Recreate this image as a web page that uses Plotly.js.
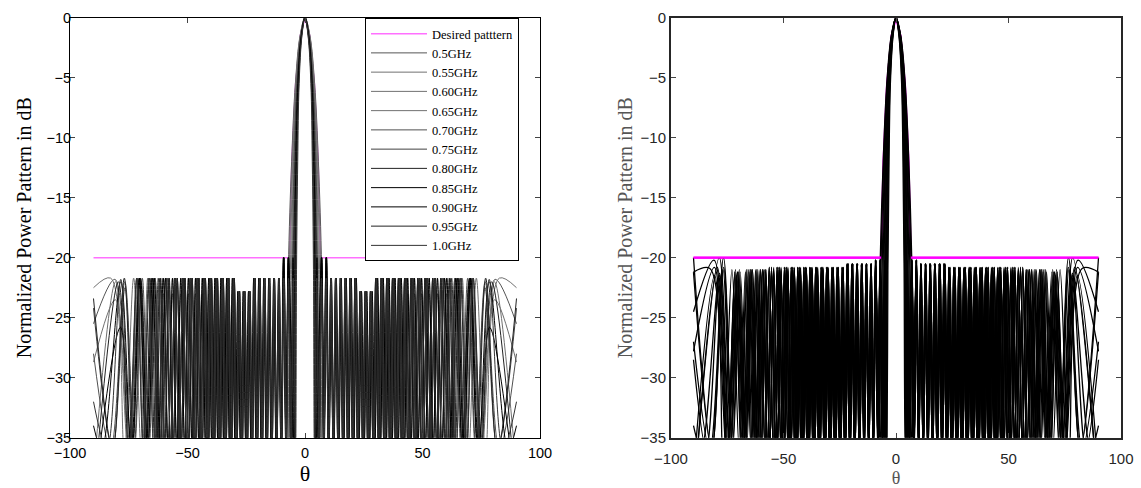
<!DOCTYPE html>
<html><head><meta charset="utf-8">
<script src="https://cdn.plot.ly/plotly-3.0.1.min.js"></script>
<style>html,body{margin:0;padding:0;background:#fff}#chart{width:1141px;height:488px}</style>
</head><body><div id="chart"></div>
<script>
// ---------------- data ----------------
const FREQ_LABELS = ['0.5GHz','0.55GHz','0.60GHz','0.65GHz','0.70GHz','0.75GHz','0.80GHz','0.85GHz','0.90GHz','0.95GHz','1.0GHz'];
const X_TICKS = [-100, -50, 0, 50, 100];
const Y_TICKS = [0, -5, -10, -15, -20, -25, -30, -35];

const DESIRED_TH = [-90, -6.6, -5.6, -4.0, -2.0, 0, 2.0, 4.0, 5.6, 6.6, 90];
const DESIRED_DB = [-20, -20, -12, -5.5, -1.5, 0, -1.5, -5.5, -12, -20, -20];

const NULL_DB = -36;                       // nulls fall below the visible range
const BEAM_DB = [0, -1.5, -5.5, -12, -21]; // main-beam levels

// main beam (theta at BEAM_DB levels) and first null, per frequency
const BEAM_050 = [0, 2.1, 4.1, 5.7, 7.1];
const BEAM_055 = [0, 2.02, 3.94, 5.44, 6.7];
const BEAM_060 = [0, 1.94, 3.78, 5.18, 6.2];
const BEAM_065 = [0, 1.86, 3.62, 4.92, 5.76];
const BEAM_070 = [0, 1.78, 3.46, 4.66, 5.36];
const BEAM_075 = [0, 1.7, 3.3, 4.4, 5.02];
const BEAM_080 = [0, 1.62, 3.14, 4.14, 4.72];
const BEAM_085 = [0, 1.54, 2.98, 3.88, 4.38];
const BEAM_090 = [0, 1.46, 2.82, 3.62, 4.12];
const BEAM_095 = [0, 1.38, 2.66, 3.36, 3.86];
const BEAM_100 = [0, 1.3, 2.5, 3.1, 3.6];
const FIRST_NULL = [8.05, 7.3, 6.72, 6.2, 5.74, 5.34, 5.02, 4.7, 4.47, 4.24, 4.0];

// sidelobe grids (nulls and peaks in degrees) shared by groups of frequencies
const GRID_A_NULLS = [3.97, 5.95, 7.95, 9.96, 11.98, 14.01, 16.06, 18.13, 20.23, 22.36, 24.52, 26.71, 28.96, 31.24, 33.60, 36.01, 38.50, 41.07, 43.76, 46.57, 49.53, 52.69, 56.10];
const GRID_A_PEAKS = [4.96, 6.95, 8.95, 10.97, 12.99, 15.03, 17.09, 19.18, 21.29, 23.44, 25.60, 27.83, 30.09, 32.41, 34.80, 37.25, 39.77, 42.40, 45.15, 48.03, 51.09, 54.36];
const GRID_B_NULLS = [4.01, 6.03, 8.05, 10.08, 12.12, 14.18, 16.26, 18.36, 20.49, 22.64, 24.83, 27.07, 29.34, 31.67, 34.06, 36.51, 39.05, 41.68, 44.43, 47.31, 50.35, 53.61, 57.14];
const GRID_B_PEAKS = [5.02, 7.04, 9.06, 11.10, 13.15, 15.22, 17.31, 19.42, 21.56, 23.73, 25.94, 28.20, 30.50, 32.85, 35.27, 37.77, 40.35, 43.03, 45.85, 48.81, 51.95, 55.33];
const GRID_C_NULLS = [4.06, 6.10, 8.15, 10.20, 12.27, 14.36, 16.46, 18.59, 20.75, 22.93, 25.15, 27.42, 29.73, 32.09, 34.53, 37.02, 39.61, 42.30, 45.11, 48.06, 51.19, 54.56, 58.24];
const GRID_C_PEAKS = [5.08, 7.12, 9.17, 11.24, 13.31, 15.41, 17.53, 19.67, 21.83, 24.04, 26.28, 28.57, 30.90, 33.30, 35.76, 38.31, 40.95, 43.69, 46.57, 49.60, 52.85, 56.36];
const GROUP = ['A','B','C','A','B','C','A','B','C','A','B'];

// sidelobe level of each frequency in each angular zone (left / right chart)
// zones: first lobe (<9.6 deg), inner (<22), dip (<30), middle (up to the tail)
const LEFT_FIRST  = [-21.7, -21.7, -20.0, -20.0, -20.0, -20.0, -20.0, -20.0, -20.0, -21.7, -21.7];
const LEFT_INNER  = [-21.7, -23.0, -21.7, -25.0, -21.7, -26.5, -21.7, -23.0, -21.7, -21.7, -21.7];
const LEFT_DIP    = [-22.8, -24.7, -22.8, -24.7, -23.0, -26.5, -22.8, -23.0, -22.8, -22.8, -22.8];
const LEFT_MID    = [-21.7, -21.7, -21.7, -22.3, -21.7, -23.0, -21.7, -21.7, -21.7, -21.7, -21.7];
const RIGHT_FIRST = [-20.2, -20.2, -20.2, -20.2, -20.2, -20.2, -20.2, -20.2, -20.2, -20.3, -20.3];
const RIGHT_INNER = [-20.5, -23.2, -20.5, -23.2, -20.5, -20.6, -20.5, -20.5, -20.6, -20.5, -20.5];
const RIGHT_DIP   = [-20.8, -23.2, -20.8, -26.3, -20.8, -28.0, -20.8, -26.3, -20.8, -20.8, -20.8];
const RIGHT_MID   = [-20.8, -21.0, -20.8, -20.9, -20.8, -20.8, -21.0, -20.8, -20.8, -21.1, -20.8];

// individual tails towards +/-90 deg (alternating peak / null, last point at 90)
const TAIL_TH_050 = [58.48, 61.05, 63.83, 66.92, 70.47, 74.79, 80.9, 90];
const TAIL_L_050  = [-21.7, -36, -21.7, -36, -21.7, -36, -21.8, -25.5];
const TAIL_R_050  = [-21.0, -36, -21.0, -36, -21.2, -36, -20.2, -24.5];
const TAIL_TH_055 = [59.43, 61.88, 64.56, 67.52, 70.91, 75.03, 80.7, 90];
const TAIL_L_055  = [-21.7, -36, -21.7, -36, -21.7, -36, -23.5, -28.7];
const TAIL_R_055  = [-21.0, -36, -21.0, -36, -21.5, -36, -20.8, -27.8];
const TAIL_TH_060 = [60.41, 62.74, 65.32, 68.16, 71.35, 75.28, 80.6, 90];
const TAIL_L_060  = [-21.7, -36, -21.7, -36, -21.7, -36, -22.0, -38];
const TAIL_R_060  = [-21.0, -36, -21.2, -36, -21.0, -36, -21.5, -38];
const TAIL_TH_065 = [57.99, 59.98, 62.11, 64.41, 66.92, 69.7, 72.92, 76.88, 82.7, 90];
const TAIL_L_065  = [-22.3, -36, -22.3, -36, -21.7, -36, -21.7, -36, -21.7, -22.5];
const TAIL_R_065  = [-21.0, -36, -21.0, -36, -21.2, -36, -21.0, -36, -20.9, -21.2];
const TAIL_TH_070 = [59.21, 61.52, 63.77, 66.38, 69.24, 72.6, 76.66, 82.7, 90];
const TAIL_L_070  = [-21.7, -36, -21.7, -36, -21.7, -36, -22.0, -36, -28.0];
const TAIL_R_070  = [-21.0, -36, -21.0, -36, -21.2, -36, -20.0, -36, -27.0];
const TAIL_TH_075 = [60.18, 62.27, 64.5, 66.96, 69.65, 72.79, 76.59, 81.9, 90];
const TAIL_L_075  = [-23.0, -36, -23.0, -36, -22.0, -36, -22.5, -36, -24.2];
const TAIL_R_075  = [-21.0, -36, -21.0, -36, -21.0, -36, -20.8, -36, -21.2];
const TAIL_TH_080 = [57.77, 59.53, 61.39, 63.38, 65.5, 67.81, 70.38, 73.3, 76.88, 81.86, 90];
const TAIL_L_080  = [-21.7, -36, -21.7, -36, -21.7, -36, -21.7, -36, -21.7, -36, -23.4];
const TAIL_R_080  = [-21.0, -36, -21.0, -36, -21.0, -36, -21.2, -36, -21.0, -36, -20.0];
const TAIL_TH_085 = [59.32, 61.64, 64.16, 66.93, 70.05, 73.74, 78.52, 90];
const TAIL_L_085  = [-21.7, -36, -21.7, -36, -21.7, -36, -25.8, -40];
const TAIL_R_085  = [-21.0, -36, -21.0, -36, -21.2, -36, -20.0, -40];
const TAIL_TH_090 = [60.30, 62.5, 64.9, 67.55, 70.5, 73.96, 78.4, 86.5, 90];
const TAIL_L_090  = [-21.7, -36, -21.7, -36, -21.7, -36, -22.0, -36, -34];
const TAIL_R_090  = [-21.0, -36, -21.0, -36, -21.2, -36, -21.5, -36, -34];
const TAIL_TH_095 = [57.88, 59.76, 61.75, 63.86, 66.2, 68.73, 71.62, 74.98, 79.4, 90];
const TAIL_L_095  = [-21.7, -36, -21.7, -36, -21.7, -36, -21.7, -36, -22.0, -40];
const TAIL_R_095  = [-21.0, -36, -21.0, -36, -21.0, -36, -21.2, -36, -20.8, -40];
const TAIL_TH_100 = [58.83, 60.58, 62.44, 64.42, 66.56, 68.9, 71.55, 74.58, 78.4, 84.27, 90];
const TAIL_L_100  = [-21.7, -36, -21.7, -36, -21.7, -36, -21.7, -36, -21.8, -36, -32];
const TAIL_R_100  = [-21.0, -36, -21.0, -36, -21.0, -36, -21.2, -36, -21.3, -36, -28.5];

// ---------------- build traces ----------------
const BEAMS = [BEAM_050, BEAM_055, BEAM_060, BEAM_065, BEAM_070, BEAM_075, BEAM_080, BEAM_085, BEAM_090, BEAM_095, BEAM_100];
const TAIL_TH = [TAIL_TH_050, TAIL_TH_055, TAIL_TH_060, TAIL_TH_065, TAIL_TH_070, TAIL_TH_075, TAIL_TH_080, TAIL_TH_085, TAIL_TH_090, TAIL_TH_095, TAIL_TH_100];
const TAIL_L = [TAIL_L_050, TAIL_L_055, TAIL_L_060, TAIL_L_065, TAIL_L_070, TAIL_L_075, TAIL_L_080, TAIL_L_085, TAIL_L_090, TAIL_L_095, TAIL_L_100];
const TAIL_R = [TAIL_R_050, TAIL_R_055, TAIL_R_060, TAIL_R_065, TAIL_R_070, TAIL_R_075, TAIL_R_080, TAIL_R_085, TAIL_R_090, TAIL_R_095, TAIL_R_100];
const GRIDS = {A:[GRID_A_NULLS, GRID_A_PEAKS], B:[GRID_B_NULLS, GRID_B_PEAKS], C:[GRID_C_NULLS, GRID_C_PEAKS]};

function half(k, side) {
  const th = BEAMS[k].slice(), db = BEAM_DB.slice();
  th.push(FIRST_NULL[k]); db.push(NULL_DB);
  const [nulls, peaks] = GRIDS[GROUP[k]];
  const lv = side === 'L' ? [LEFT_FIRST, LEFT_INNER, LEFT_DIP, LEFT_MID] : [RIGHT_FIRST, RIGHT_INNER, RIGHT_DIP, RIGHT_MID];
  let i = 0;
  while (i < peaks.length && peaks[i] <= FIRST_NULL[k] + 0.5) i++;
  for (; i < peaks.length; i++) {
    const p = peaks[i];
    const zone = p < 9.6 ? 0 : p < 22 ? 1 : p < 30 ? 2 : 3;
    th.push(p); db.push(lv[zone][k]);
    th.push(nulls[i + 1]); db.push(NULL_DB);
  }
  const tt = TAIL_TH[k], td = side === 'L' ? TAIL_L[k] : TAIL_R[k];
  for (let j = 0; j < tt.length; j++) { th.push(tt[j]); db.push(td[j]); }
  return {th, db};
}
function full(h) {
  const x = [], y = [];
  for (let i = h.th.length - 1; i >= 1; i--) { x.push(-h.th[i]); y.push(h.db[i]); }
  for (let i = 0; i < h.th.length; i++) { x.push(h.th[i]); y.push(h.db[i]); }
  return {x, y};
}
// flat (sidelobe) part of the desired pattern, with a gap over the main beam
const flatX = [], flatY = [];
DESIRED_TH.forEach((t, i) => {
  if (DESIRED_DB[i] === -20) { flatX.push(t); flatY.push(DESIRED_DB[i]); }
  if (i < DESIRED_TH.length - 1 && DESIRED_DB[i] === -20 && DESIRED_DB[i + 1] !== -20) { flatX.push(null); flatY.push(null); }
});
const LINE_COLORS = ['#555','#707070','#707070','#707070','#505050','#404040','#222','#000','#000','#222','#333'];

const traces = [];
traces.push({x: DESIRED_TH, y: DESIRED_DB, xaxis:'x', yaxis:'y', mode:'lines', name:'Desired patttern',
  line:{color:'#ff70ff', width:1.5}, showlegend:true});
for (let k = 0; k < FREQ_LABELS.length; k++) {
  const p = full(half(k, 'L'));
  traces.push({x:p.x, y:p.y, xaxis:'x', yaxis:'y', mode:'lines', name:FREQ_LABELS[k],
    line:{color:LINE_COLORS[k], width:1, shape:'spline', smoothing:1}});
}
traces.push({x: DESIRED_TH, y: DESIRED_DB, xaxis:'x2', yaxis:'y2', mode:'lines', showlegend:false,
  line:{color:'#ff00ff', width:2}});
for (let k = 0; k < FREQ_LABELS.length; k++) {
  const p = full(half(k, 'R'));
  traces.push({x:p.x, y:p.y, xaxis:'x2', yaxis:'y2', mode:'lines', showlegend:false,
    line:{color:'#000', width:1.3, shape:'spline', smoothing:1}});
}
traces.push({x: flatX, y: flatY, xaxis:'x2', yaxis:'y2', mode:'lines', showlegend:false,
  line:{color:'#ff00ff', width:2.2}, connectgaps:false});

const W = 1141, H = 488;
const tickFont = {family:'Liberation Sans, Arial, sans-serif', size:14.5, color:'#000'};
const serif = 'Liberation Serif, Times New Roman, serif';
const yDom = [1 - 437.7/H, 1 - 17.7/H];

const layout = {
  width:W, height:H, margin:{l:0, r:0, t:0, b:0},
  paper_bgcolor:'#fff', plot_bgcolor:'#fff', showlegend:true,
  xaxis:{domain:[70/W, 540/W], range:[-100,100], tickvals:X_TICKS, ticks:'inside', ticklen:5,
    showline:true, mirror:'ticks', linecolor:'#000', linewidth:1, showgrid:false, zeroline:false,
    tickfont:tickFont, automargin:false, ticklabelstandoff:2,
    title:{text:'θ', font:{family:serif, size:22, color:'#000'}, standoff:2}},
  yaxis:{domain:yDom, range:[-35,0], tickvals:Y_TICKS, ticks:'inside', ticklen:5,
    showline:true, mirror:'ticks', linecolor:'#000', linewidth:1, showgrid:false, zeroline:false,
    tickfont:tickFont, automargin:false, ticklabelstandoff:-5,
    title:{text:'Normalized Power Pattern in dB', font:{family:serif, size:20, color:'#000'}, standoff:9}},
  xaxis2:{domain:[671/W, 1121/W], range:[-100,100], tickvals:X_TICKS, ticks:'inside', ticklen:5, anchor:'y2',
    showline:true, mirror:'ticks', linecolor:'#262626', linewidth:2, showgrid:false, zeroline:false,
    tickfont:{family:'Liberation Sans, Arial, sans-serif', size:15, color:'#262626'}, automargin:false,
    ticklabelstandoff:6,
    title:{text:'θ', font:{family:serif, size:18, color:'#555'}, standoff:8}},
  yaxis2:{domain:yDom, range:[-35,0], tickvals:Y_TICKS, ticks:'inside', ticklen:5, anchor:'x2',
    showline:true, mirror:'ticks', linecolor:'#262626', linewidth:2, showgrid:false, zeroline:false,
    tickfont:{family:'Liberation Sans, Arial, sans-serif', size:15, color:'#262626'}, automargin:false,
    title:{text:'Normalized Power Pattern in dB', font:{family:serif, size:20, color:'#555'}, standoff:3}},
  legend:{x:365/W, xanchor:'left', y:1 - 18/H, yanchor:'top', bgcolor:'#fff', bordercolor:'#000', borderwidth:1,
    font:{family:serif, size:12.5, color:'#000'}, itemwidth:56, tracegroupgap:0}
};

Plotly.newPlot('chart', traces, layout, {displayModeBar:false, staticPlot:true});
</script>
</body></html>
